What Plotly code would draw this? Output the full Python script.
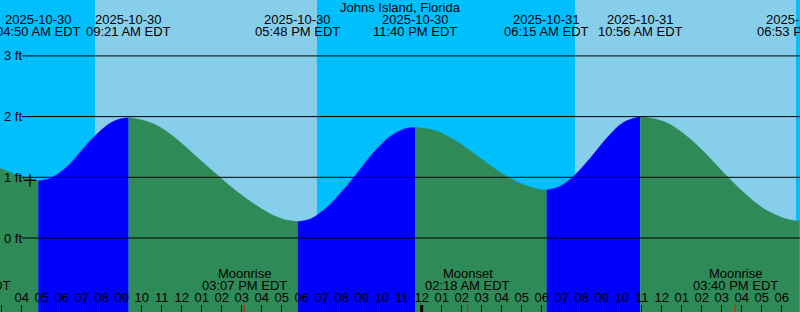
import plotly.graph_objects as go
from datetime import datetime

TITLE = "Johns Island, Florida"

# Tide curve (EDT local time, feet)
tide_times = [
    "2025-10-30 02:55", "2025-10-30 03:55", "2025-10-30 04:50",
    "2025-10-30 05:25", "2025-10-30 05:55", "2025-10-30 06:25", "2025-10-30 06:55",
    "2025-10-30 07:25", "2025-10-30 07:55", "2025-10-30 08:25", "2025-10-30 08:55",
    "2025-10-30 09:21",
    "2025-10-30 09:40", "2025-10-30 10:40", "2025-10-30 11:40", "2025-10-30 12:40",
    "2025-10-30 13:40", "2025-10-30 14:40", "2025-10-30 15:40", "2025-10-30 16:25",
    "2025-10-30 17:04", "2025-10-30 17:48",
    "2025-10-30 18:25", "2025-10-30 18:55", "2025-10-30 19:25", "2025-10-30 19:55",
    "2025-10-30 20:25", "2025-10-30 20:55", "2025-10-30 21:25", "2025-10-30 21:55",
    "2025-10-30 22:25", "2025-10-30 23:10", "2025-10-30 23:40",
    "2025-10-31 00:40", "2025-10-31 01:40", "2025-10-31 02:40", "2025-10-31 03:40",
    "2025-10-31 04:19", "2025-10-31 05:10", "2025-10-31 05:55", "2025-10-31 06:15",
    "2025-10-31 06:55", "2025-10-31 07:34", "2025-10-31 08:25", "2025-10-31 09:16",
    "2025-10-31 10:04", "2025-10-31 10:56",
    "2025-10-31 12:10", "2025-10-31 13:10", "2025-10-31 14:10", "2025-10-31 15:19",
    "2025-10-31 16:10", "2025-10-31 17:10", "2025-10-31 18:10", "2025-10-31 18:40",
    "2025-10-31 18:53",
]
tide_ft = [
    1.15, 1.02, 0.94,
    0.98, 1.08, 1.22, 1.41,
    1.60, 1.76, 1.89, 1.96,
    1.98,
    1.97, 1.87, 1.65, 1.36,
    1.07, 0.79, 0.55, 0.40,
    0.31, 0.27,
    0.31, 0.41, 0.55, 0.73,
    0.92, 1.13, 1.34, 1.52,
    1.67, 1.80, 1.82,
    1.77, 1.61, 1.38, 1.14,
    1.00, 0.87, 0.80, 0.79,
    0.85, 1.01, 1.31, 1.65,
    1.90, 2.00,
    1.91, 1.70, 1.40, 1.00,
    0.73, 0.47, 0.32, 0.285,
    0.28,
]

# High / low tide events
tide_event_times = ["2025-10-30 04:50", "2025-10-30 09:21", "2025-10-30 17:48",
                    "2025-10-30 23:40", "2025-10-31 06:15", "2025-10-31 10:56",
                    "2025-10-31 18:53"]
tide_event_dates = ["2025-10-30", "2025-10-30", "2025-10-30", "2025-10-30",
                    "2025-10-31", "2025-10-31", "2025-10-31"]
tide_event_labels = ["04:50 AM EDT", "09:21 AM EDT", "05:48 PM EDT", "11:40 PM EDT",
                     "06:15 AM EDT", "10:56 AM EDT", "06:53 PM EDT"]

# Sun (day = light sky blue)
sunrise_times = ["2025-10-30 07:40", "2025-10-31 07:40"]
sunset_times = ["2025-10-30 18:46", "2025-10-31 18:43"]

# Moon events
moon_times = ["2025-10-30 01:19", "2025-10-30 15:07", "2025-10-31 02:18", "2025-10-31 15:40"]
moon_names = ["Moonset", "Moonrise", "Moonset", "Moonrise"]
moon_labels = ["01:19 AM EDT", "03:07 PM EDT", "02:18 AM EDT", "03:40 PM EDT"]

midnight_times = ["2025-10-31 00:00"]

marker_time = ["2025-10-30 04:25"]
marker_ft = [0.95]

y_ticks = [0, 1, 2, 3]
y_tick_text = ["0 ft", "1 ft", "2 ft", "3 ft"]

x_range = ["2025-10-30 02:55", "2025-10-31 18:55"]
y_range = [-1.219, 3.921]

NIGHT = "#00BFFF"
DAY = "#87CEEB"
RISING = "#0000FF"
FALLING = "#2E8B57"
FONT = "Liberation Sans, Arial, sans-serif"
H = 312

fmt = "%Y-%m-%d %H:%M"
t0 = datetime.strptime(x_range[0], fmt)
t1 = datetime.strptime(x_range[1], fmt)


def in_range(t):
    return t0 <= datetime.strptime(t, fmt) <= t1


def paper_x(t):
    return (datetime.strptime(t, fmt) - t0).total_seconds() / (t1 - t0).total_seconds()


fig = go.Figure()

# Split the curve into rising / falling segments at the extrema
bounds = [0] + [tide_times.index(t) for t in tide_event_times if t in tide_times[1:]]
if bounds[-1] != len(tide_times) - 1:
    bounds.append(len(tide_times) - 1)
base = y_range[0] - 0.5
for a, b in zip(bounds[:-1], bounds[1:]):
    xs = tide_times[a:b + 1]
    ys = tide_ft[a:b + 1]
    col = RISING if ys[-1] > ys[0] else FALLING
    fig.add_trace(go.Scatter(x=[xs[0], xs[-1]], y=[base, base], mode="lines",
                             line=dict(width=0, color=col), hoverinfo="skip",
                             showlegend=False))
    fig.add_trace(go.Scatter(x=xs, y=ys, mode="lines",
                             line=dict(width=0.5, color=col, shape="spline", smoothing=1.0),
                             fill="tonexty", fillcolor=col, hoverinfo="skip",
                             showlegend=False))

fig.add_trace(go.Scatter(x=marker_time, y=marker_ft, mode="markers",
                         marker=dict(symbol="cross-thin", size=9,
                                     line=dict(width=1.2, color="black")),
                         showlegend=False, hoverinfo="skip"))

shapes = []
for r, s in zip(sunrise_times, sunset_times):
    shapes.append(dict(type="rect", xref="x", yref="paper", x0=r, x1=s, y0=0, y1=1,
                       fillcolor=DAY, line=dict(width=0), layer="below"))
for v in y_ticks:
    shapes.append(dict(type="line", xref="paper", yref="y", x0=22 / 800, x1=1, y0=v, y1=v,
                       line=dict(color="black", width=1), layer="above"))
for t in midnight_times:
    shapes.append(dict(type="line", xref="x", yref="paper", x0=t, x1=t, y0=0, y1=7 / H,
                       line=dict(color="black", width=3), layer="above"))
for t in moon_times:
    if in_range(t):
        shapes.append(dict(type="line", xref="x", yref="paper", x0=t, x1=t, y0=0, y1=7 / H,
                           line=dict(color="red", width=1), layer="above"))

ann = []
ann.append(dict(text=TITLE, x=0.5, y=1 - 7.5 / H, xref="paper", yref="paper",
                xanchor="center", yanchor="middle", showarrow=False))
for t, d, l in zip(tide_event_times, tide_event_dates, tide_event_labels):
    ann.append(dict(text=d, x=paper_x(t), y=1 - 19.5 / H, xref="paper", yref="paper",
                    xanchor="center", yanchor="middle", showarrow=False))
    ann.append(dict(text=l, x=paper_x(t), y=1 - 31.5 / H, xref="paper", yref="paper",
                    xanchor="center", yanchor="middle", showarrow=False))
for t, n, l in zip(moon_times, moon_names, moon_labels):
    ann.append(dict(text=n, x=paper_x(t), y=1 - 273.5 / H, xref="paper", yref="paper",
                    xanchor="center", yanchor="middle", showarrow=False))
    ann.append(dict(text=l, x=paper_x(t), y=1 - 285 / H, xref="paper", yref="paper",
                    xanchor="center", yanchor="middle", showarrow=False))
for v, txt in zip(y_ticks, y_tick_text):
    ann.append(dict(text=txt, x=0, y=v, xref="paper", yref="y", xshift=2,
                    xanchor="left", yanchor="middle", showarrow=False))

fig.update_layout(
    width=800, height=H, margin=dict(l=0, r=0, t=0, b=0),
    paper_bgcolor=NIGHT, plot_bgcolor=NIGHT,
    font=dict(family=FONT, size=13, color="black"),
    shapes=shapes, annotations=ann, showlegend=False,
    xaxis=dict(type="date", range=x_range, showgrid=False, zeroline=False,
               showline=False, ticks="inside", ticklen=7, tickwidth=1,
               tickcolor="black", dtick=3600000, tick0="2025-10-30 00:00",
               tickformat="%I", ticklabelposition="inside",
               tickfont=dict(family=FONT, size=13, color="black")),
    yaxis=dict(range=y_range, showgrid=False, zeroline=False, showline=False,
               showticklabels=False, ticks=""),
)

fig.write_html("out.html")
